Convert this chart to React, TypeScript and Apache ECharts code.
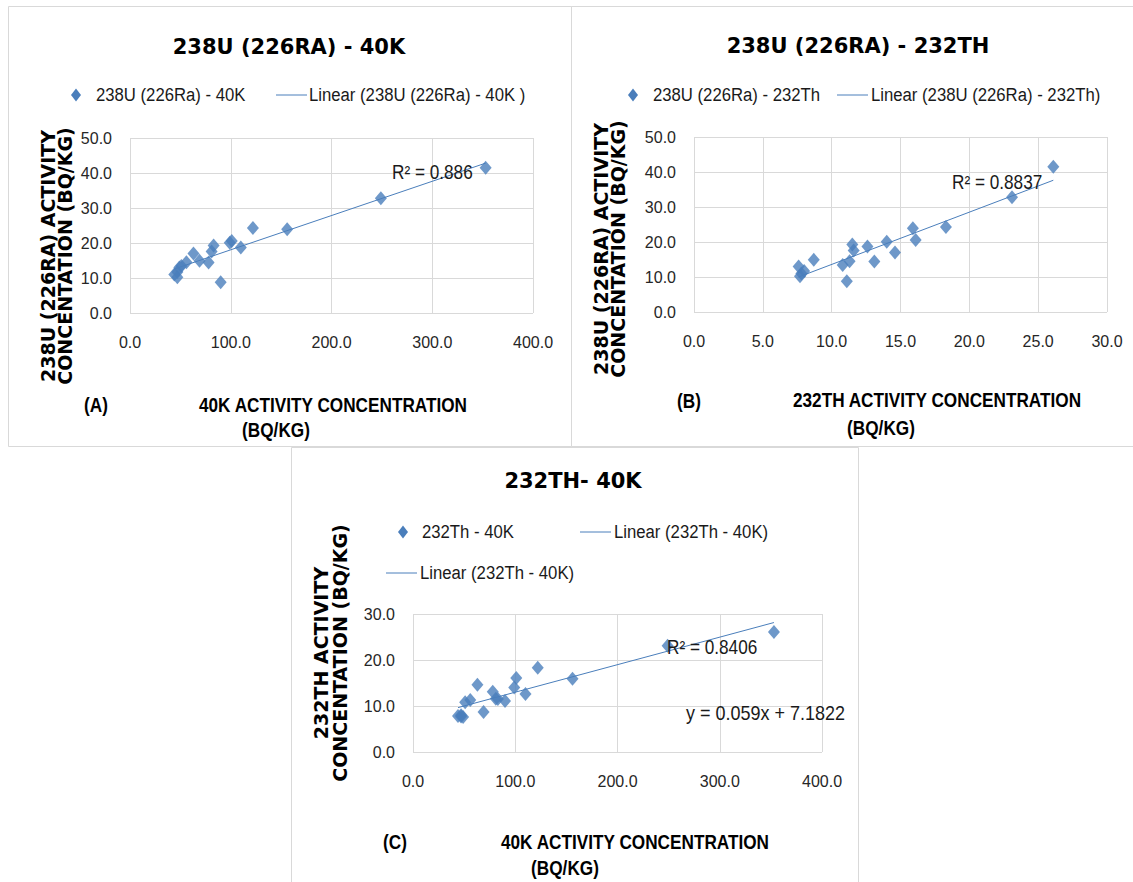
import React, { useEffect, useRef } from "react";
import * as echarts from "echarts";

// Per-sample activity concentrations (Bq/kg)
const sampleK = [353, 249, 156, 122, 101, 99, 110, 83, 81, 63, 78, 69, 90, 56, 51, 47, 44, 47, 49];
const sampleU = [41.5, 32.8, 23.9, 24.3, 20.6, 20.1, 18.7, 19.3, 17.6, 17.0, 14.4, 14.9, 8.8, 14.5, 13.4, 11.7, 11.0, 10.2, 13.0];
const sampleTh = [26.1, 23.1, 15.9, 18.3, 16.1, 14.0, 12.6, 11.5, 11.6, 14.6, 13.1, 8.7, 11.1, 11.3, 10.8, 8.0, 7.8, 7.7, 7.6];

const panelTitles = ["238U (226RA) - 40K", "238U (226RA) - 232TH", "232TH- 40K"];
const scatterNames = ["238U (226Ra) - 40K", "238U (226Ra) - 232Th", "232Th - 40K"];
const trendNames = ["Linear (238U (226Ra) - 40K )", "Linear (238U (226Ra) - 232Th)", "Linear (232Th - 40K)"];
const yNames = [
  "238U (226RA) ACTIVITY\nCONCENTATION (BQ/KG)",
  "238U (226RA) ACTIVITY\nCONCENTATION (BQ/KG)",
  "232TH ACTIVITY\nCONCENTATION (BQ/KG)",
];
const xNames = ["40K ACTIVITY CONCENTRATION", "232TH ACTIVITY CONCENTRATION", "40K ACTIVITY CONCENTRATION"];
const xUnit = "(BQ/KG)";
const panelLetters = ["(A)", "(B)", "(C)"];
const r2Labels = ["R\u00b2 = 0.886", "R\u00b2 = 0.8837", "R\u00b2 = 0.8406"];
const eqLabelC = "y = 0.059x + 7.1822";

const xRanges = [
  [0, 400, 100],
  [0, 30, 5],
  [0, 400, 100],
];
const yRanges = [
  [0, 50, 10],
  [0, 50, 10],
  [0, 30, 10],
];

const BLUE = "#4a7ebb";
const GRID = "#d9d9d9";
const NARROW = "'Liberation Sans', Arial, sans-serif";
const WIDE = "'DejaVu Sans', Verdana, sans-serif";

function zip(a: number[], b: number[]) {
  return a.map((v, i) => [v, b[i]]);
}

function trend(xs: number[], ys: number[]) {
  const n = xs.length;
  const mx = xs.reduce((s, v) => s + v, 0) / n;
  const my = ys.reduce((s, v) => s + v, 0) / n;
  let sxy = 0;
  let sxx = 0;
  for (let i = 0; i < n; i++) {
    sxy += (xs[i] - mx) * (ys[i] - my);
    sxx += (xs[i] - mx) * (xs[i] - mx);
  }
  const slope = sxy / sxx;
  const icpt = my - slope * mx;
  const x0 = Math.min(...xs);
  const x1 = Math.max(...xs);
  return [
    [x0, slope * x0 + icpt],
    [x1, slope * x1 + icpt],
  ];
}

const grids = [
  { left: 130, top: 138, width: 403, height: 175 },
  { left: 694, top: 137, width: 413, height: 175 },
  { left: 413, top: 614, width: 409, height: 138 },
];

function txt(text: string, x: number, y: number, size: number, opts: any = {}) {
  return {
    type: "text",
    x,
    y,
    rotation: opts.rotation || 0,
    scaleX: opts.scaleX || 1,
    z: 10,
    style: {
      text,
      fill: opts.fill || "#000",
      fontSize: size,
      fontFamily: opts.family || NARROW,
      fontWeight: opts.weight || "normal",
      align: opts.align || "center",
      verticalAlign: "middle",
      lineHeight: opts.lineHeight,
    },
  };
}

function diamond(cx: number, cy: number) {
  return {
    type: "polygon",
    z: 10,
    shape: {
      points: [
        [cx, cy - 6.5],
        [cx + 5, cy],
        [cx, cy + 6.5],
        [cx - 5, cy],
      ],
    },
    style: { fill: BLUE },
  };
}

function legLine(x0: number, x1: number, y: number) {
  return {
    type: "line",
    z: 10,
    shape: { x1: x0, y1: y, x2: x1, y2: y },
    style: { stroke: BLUE, lineWidth: 1 },
  };
}

function rect(x: number, y: number, w: number, h: number) {
  return {
    type: "rect",
    z: 0,
    shape: { x: x + 0.5, y: y + 0.5, width: w, height: h },
    style: { fill: "none", stroke: GRID, lineWidth: 1 },
  };
}

export default function App() {
  const ref = useRef<HTMLDivElement>(null);
  useEffect(() => {
    if (!ref.current) return;
    const chart = echarts.init(ref.current, undefined, { renderer: "svg" });
    const pairs = [
      zip(sampleK, sampleU),
      zip(sampleTh, sampleU),
      zip(sampleK, sampleTh),
    ];
    const trends = [trend(sampleK, sampleU), trend(sampleTh, sampleU), trend(sampleK, sampleTh)];

    const axisLabel = {
      color: "#262626",
      fontSize: 16,
      fontFamily: NARROW,
      formatter: (v: number) => v.toFixed(1),
    };
    const xAxis = xRanges.map((r, i) => ({
      type: "value",
      gridIndex: i,
      min: r[0],
      max: r[1],
      interval: r[2],
      axisLine: { show: false },
      axisTick: { show: false },
      splitLine: { show: true, lineStyle: { color: GRID, width: 1 } },
      axisLabel: { ...axisLabel, margin: 21 },
    }));
    const yAxis = yRanges.map((r, i) => ({
      type: "value",
      gridIndex: i,
      min: r[0],
      max: r[1],
      interval: r[2],
      axisLine: { show: false },
      axisTick: { show: false },
      splitLine: { show: true, lineStyle: { color: GRID, width: 1 } },
      axisLabel: { ...axisLabel, margin: 18 },
    }));

    const series: any[] = [];
    for (let i = 0; i < 3; i++) {
      series.push({
        type: "line",
        name: trendNames[i],
        xAxisIndex: i,
        yAxisIndex: i,
        data: trends[i],
        showSymbol: false,
        symbol: "none",
        lineStyle: { color: BLUE, width: 1 },
        z: 2,
      });
      series.push({
        type: "scatter",
        name: scatterNames[i],
        xAxisIndex: i,
        yAxisIndex: i,
        data: pairs[i],
        symbol: "diamond",
        symbolSize: [12, 14],
        itemStyle: { color: BLUE },
        z: 3,
      });
    }

    const lg = { align: "left", scaleX: 0.88, fill: "#1a1a1a" };
    const xn = { weight: "bold", scaleX: 0.86 };
    const r2 = { align: "left", fill: "#1a1a1a", scaleX: 0.86 };

    const graphic: any[] = [
      rect(8, 6, 563, 440),
      rect(571, 6, 570, 440),
      rect(291, 447, 567, 440),
      // titles
      txt(panelTitles[0], 289, 47, 21, { family: WIDE, weight: "bold" }),
      txt(panelTitles[1], 858, 46, 21, { family: WIDE, weight: "bold" }),
      txt(panelTitles[2], 573, 481, 21, { family: WIDE, weight: "bold" }),
      // legend A
      diamond(76, 95),
      txt(scatterNames[0], 96, 95, 19, lg),
      legLine(276, 307, 95),
      txt(trendNames[0], 309, 95, 19, lg),
      // legend B
      diamond(633, 95),
      txt(scatterNames[1], 653, 95, 19, lg),
      legLine(837, 868, 95),
      txt(trendNames[1], 871, 95, 19, lg),
      // legend C
      diamond(403, 532),
      txt(scatterNames[2], 422, 532, 19, lg),
      legLine(580, 611, 532),
      txt(trendNames[2], 614, 532, 19, lg),
      legLine(386, 417, 573),
      txt(trendNames[2], 420, 573, 19, lg),
      // y axis names
      txt(yNames[0], 56, 256, 19, { family: WIDE, weight: "bold", rotation: Math.PI / 2, lineHeight: 17 }),
      txt(yNames[1], 609, 249, 19, { family: WIDE, weight: "bold", rotation: Math.PI / 2, lineHeight: 17 }),
      txt(yNames[2], 330, 653, 19, { family: WIDE, weight: "bold", rotation: Math.PI / 2, lineHeight: 19 }),
      // x axis names
      txt(panelLetters[0], 96, 405, 20, xn),
      txt(xNames[0], 333, 405, 20, xn),
      txt(xUnit, 276, 430, 20, xn),
      txt(panelLetters[1], 689, 401, 20, xn),
      txt(xNames[1], 937, 400, 20, xn),
      txt(xUnit, 881, 428, 20, xn),
      txt(panelLetters[2], 395, 842, 20, xn),
      txt(xNames[2], 635, 842, 20, xn),
      txt(xUnit, 565, 868, 20, xn),
      // R2 / equation labels
      txt(r2Labels[0], 392, 172, 20, r2),
      txt(r2Labels[1], 952, 182, 20, r2),
      txt(r2Labels[2], 667, 647, 20, r2),
      txt(eqLabelC, 686, 713, 20, { ...r2, scaleX: 0.9 }),
    ];

    chart.setOption({
      animation: false,
      backgroundColor: "#ffffff",
      grid: grids.map((g) => ({ ...g, containLabel: false })),
      xAxis,
      yAxis,
      series,
      graphic,
    });
    return () => chart.dispose();
  }, []);
  return (
    <div
      ref={ref}
      style={{ position: "fixed", left: 0, top: 0, width: 1133, height: 882, background: "#fff" }}
    />
  );
}
